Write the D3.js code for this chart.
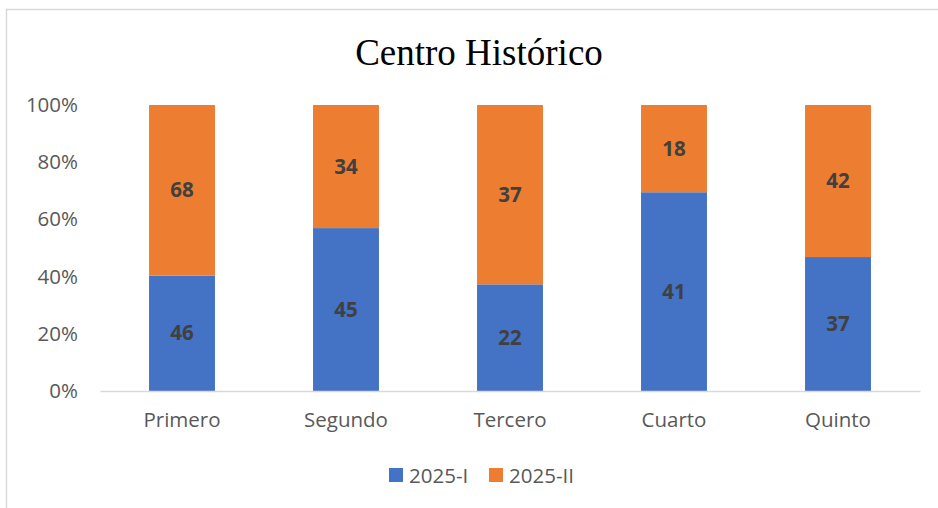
<!DOCTYPE html>
<meta charset="utf-8">
<title>Centro Histórico</title>
<style>
body { margin: 0; background: #fff; }
svg text { font-family: "Open Sans", "Noto Sans", sans-serif; }
.axis path, .axis line { fill: none; }
.axis text { fill: #595959; font-size: 20.5px; }
.label { font-weight: bold; fill: #404040; font-size: 20.5px; }
</style>
<body>
<svg id="chart"></svg>
<script src="https://d3js.org/d3.v7.min.js"></script>
<script>

var categories = ["Primero", "Segundo", "Tercero", "Cuarto", "Quinto"];
var series = ["2025-I", "2025-II"];
var valuesI = [46, 45, 22, 41, 37];
var valuesII = [68, 34, 37, 18, 42];
var colors = ["#4472C4", "#ED7D31"];

var W = 938, H = 508;
var margin = {top: 105, right: 18, bottom: 117, left: 100},
    width = W - margin.left - margin.right,
    height = H - margin.top - margin.bottom;

var svg = d3.select("#chart").attr("width", W).attr("height", H);

// chart frame
svg.append("rect")
    .attr("x", 6.5).attr("y", 9.5)
    .attr("width", W).attr("height", H)
    .attr("fill", "none").attr("stroke", "#d9d9d9").attr("stroke-width", 1.5);

svg.append("text")
    .attr("x", 479).attr("y", 65)
    .attr("text-anchor", "middle")
    .style("font-family", "'Liberation Serif', 'Times New Roman', serif")
    .style("font-size", "37px")
    .attr("fill", "#000")
    .text("Centro Histórico");

var g = svg.append("g").attr("transform", "translate(" + margin.left + "," + margin.top + ")");

var rows = categories.map(function(c, i) {
  var total = valuesI[i] + valuesII[i];
  return {cat: c, "2025-I": valuesI[i] / total, "2025-II": valuesII[i] / total,
          raw: {"2025-I": valuesI[i], "2025-II": valuesII[i]}};
});

var x = d3.scaleBand().domain(categories).range([0, width]).paddingInner(0.598).paddingOuter(0.299);
var y = d3.scaleLinear().domain([0, 1]).range([height, 0]);
var color = d3.scaleOrdinal().domain(series).range(colors);

var stack = d3.stack().keys(series)(rows);

var layers = g.selectAll(".layer").data(stack).enter().append("g")
    .attr("fill", function(d) { return color(d.key); });

layers.selectAll("rect").data(function(d) { return d; }).enter().append("rect")
    .attr("x", function(d) { return x(d.data.cat); })
    .attr("width", x.bandwidth())
    .attr("y", function(d) { return y(d[1]); })
    .attr("height", function(d) { return y(d[0]) - y(d[1]); });

stack.forEach(function(layer) {
  g.selectAll(".lbl-" + layer.key).data(layer).enter().append("text")
      .attr("class", "label")
      .attr("text-anchor", "middle")
      .attr("x", function(d) { return x(d.data.cat) + x.bandwidth() / 2; })
      .attr("y", function(d) { return (y(d[0]) + y(d[1])) / 2; })
      .attr("dy", "0.35em")
      .text(function(d) { return d.data.raw[layer.key]; });
});

var yAxis = g.append("g").attr("class", "axis")
    .call(d3.axisLeft(y).tickValues([0, 0.2, 0.4, 0.6, 0.8, 1]).tickFormat(d3.format(".0%")).tickSize(0).tickPadding(22));
yAxis.select(".domain").remove();

var xAxis = g.append("g").attr("class", "axis")
    .attr("transform", "translate(0," + height + ")")
    .call(d3.axisBottom(x).tickSize(0).tickPadding(21));
xAxis.select(".domain").attr("stroke", "#d9d9d9").attr("stroke-width", 1.5);

// legend
var legend = svg.append("g").attr("transform", "translate(389,468)");
var items = legend.selectAll("g").data(series).enter().append("g")
    .attr("transform", function(d, i) { return "translate(" + (i * 100) + ",0)"; });
items.append("rect").attr("width", 14).attr("height", 14).attr("fill", color);
items.append("text").attr("x", 20).attr("y", 15)
    .attr("fill", "#595959").style("font-size", "20.5px")
    .text(function(d) { return d; });

</script>
</body>
